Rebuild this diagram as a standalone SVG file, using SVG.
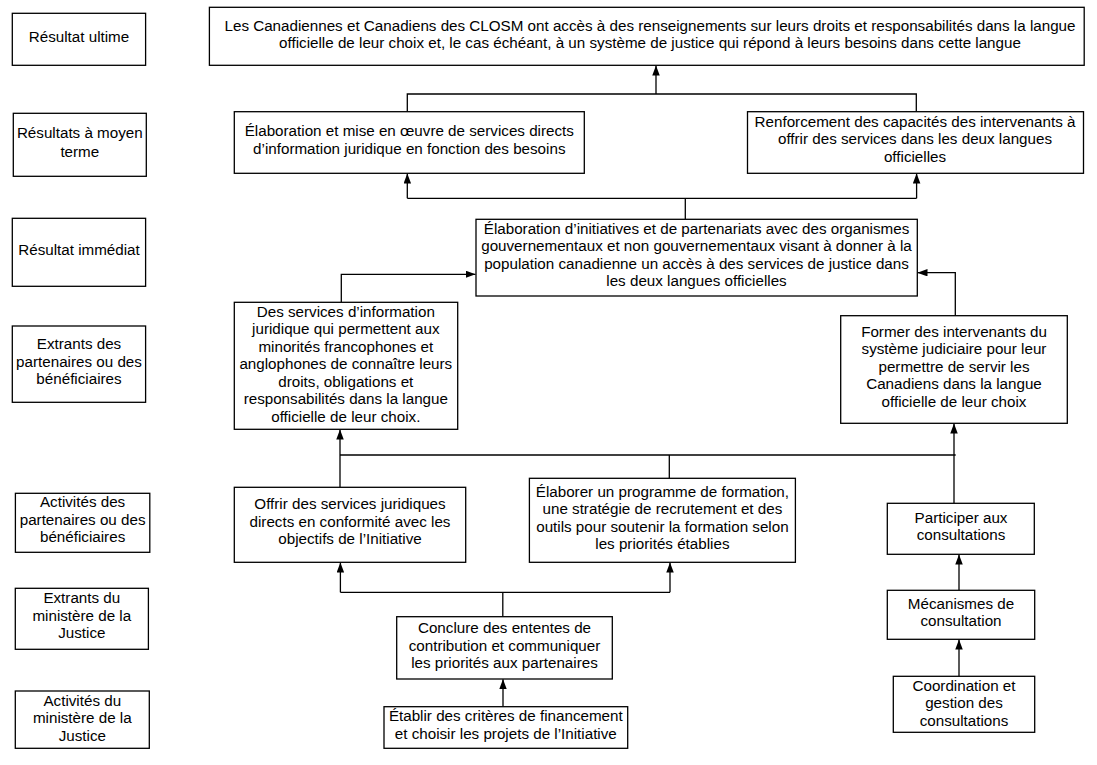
<svg xmlns="http://www.w3.org/2000/svg" width="1097" height="765" viewBox="0 0 1097 765">
<defs>
<style>
.b{fill:#fff;stroke:#000;stroke-width:1.3}
.t{font-family:"Liberation Sans",Arial,sans-serif;font-size:15.2px;fill:#000;text-anchor:middle}
.c{fill:none;stroke:#000;stroke-width:1.3}
</style>
<marker id="ah" markerUnits="userSpaceOnUse" markerWidth="10" markerHeight="8" refX="10" refY="3.75" orient="auto">
<path d="M0,0 L10,3.75 L0,7.5 z" fill="#000"/>
</marker>
</defs>
<rect width="1097" height="765" fill="#fff"/>

<g id="connectors">
<polyline class="c" points="407.3,111.7 407.3,94 916.3,94 916.3,111.7"/>
<line class="c" x1="656" y1="94" x2="656" y2="65.5" marker-end="url(#ah)"/>
<polyline class="c" points="685.3,219.3 685.3,198.3"/>
<line class="c" x1="407.3" y1="198.3" x2="916.6" y2="198.3"/>
<line class="c" x1="407.3" y1="198.3" x2="407.3" y2="173.5" marker-end="url(#ah)"/>
<line class="c" x1="916.6" y1="198.3" x2="916.6" y2="173.5" marker-end="url(#ah)"/>
<polyline class="c" points="341.3,302.3 341.3,274.3 475.5,274.3" marker-end="url(#ah)"/>
<polyline class="c" points="955.3,315.7 955.3,272.7 917.5,272.7" marker-end="url(#ah)"/>
<line class="c" x1="340" y1="487.3" x2="340" y2="429.5" marker-end="url(#ah)"/>
<line class="c" x1="340" y1="455" x2="955.7" y2="455"/>
<line class="c" x1="669.3" y1="455" x2="669.3" y2="478.3"/>
<line class="c" x1="954" y1="503.3" x2="954" y2="423.5" marker-end="url(#ah)"/>
<line class="c" x1="502.8" y1="616.7" x2="502.8" y2="592.3"/>
<line class="c" x1="340.4" y1="592.3" x2="670" y2="592.3"/>
<line class="c" x1="340.4" y1="592.3" x2="340.4" y2="562.5" marker-end="url(#ah)"/>
<line class="c" x1="670" y1="592.3" x2="670" y2="562.5" marker-end="url(#ah)"/>
<line class="c" x1="503" y1="706.7" x2="503" y2="679.2" marker-end="url(#ah)"/>
<line class="c" x1="959" y1="590.3" x2="959" y2="554.5" marker-end="url(#ah)"/>
<line class="c" x1="959" y1="676.3" x2="959" y2="639.5" marker-end="url(#ah)"/>
</g>

<g id="lbl-ultime">
<rect class="b" x="12.3" y="13.3" width="133.3" height="52"/>
<text class="t" x="79" y="42.3">Résultat ultime</text>
</g>
<g id="lbl-moyen">
<rect class="b" x="13.3" y="113.3" width="133" height="63"/>
<text class="t" x="79.8" y="138.3">Résultats à moyen</text>
<text class="t" x="79.8" y="156.5">terme</text>
</g>
<g id="lbl-immediat">
<rect class="b" x="12.3" y="218.3" width="133.3" height="68"/>
<text class="t" x="79" y="255">Résultat immédiat</text>
</g>
<g id="lbl-extrants-part">
<rect class="b" x="12.3" y="326" width="133.3" height="76.3"/>
<text class="t" x="79" y="349.3">Extrants des</text>
<text class="t" x="79" y="366.8">partenaires ou des</text>
<text class="t" x="79" y="384.3">bénéficiaires</text>
</g>
<g id="lbl-activites-part">
<rect class="b" x="15.4" y="493.3" width="134.4" height="59"/>
<text class="t" x="82.6" y="507.3">Activités des</text>
<text class="t" x="82.6" y="524.8">partenaires ou des</text>
<text class="t" x="82.6" y="542.3">bénéficiaires</text>
</g>
<g id="lbl-extrants-min">
<rect class="b" x="15.3" y="588.3" width="133.1" height="61"/>
<text class="t" x="81.8" y="603.3">Extrants du</text>
<text class="t" x="81.8" y="620.8">ministère de la</text>
<text class="t" x="81.8" y="638.3">Justice</text>
</g>
<g id="lbl-activites-min">
<rect class="b" x="15.3" y="691" width="134" height="57.3"/>
<text class="t" x="82.3" y="705.7">Activités du</text>
<text class="t" x="82.3" y="723.2">ministère de la</text>
<text class="t" x="82.3" y="740.7">Justice</text>
</g>

<g id="n-ultime">
<rect class="b" x="209.4" y="7.3" width="874.8" height="58"/>
<text class="t" x="650" y="30.5">Les Canadiennes et Canadiens des CLOSM ont accès à des renseignements sur leurs droits et responsabilités dans la langue</text>
<text class="t" x="650" y="48">officielle de leur choix et, le cas échéant, à un système de justice qui répond à leurs besoins dans cette langue</text>
</g>
<g id="n-moyen-1">
<rect class="b" x="234.3" y="111.7" width="350" height="61.6"/>
<text class="t" x="409.3" y="136">Élaboration et mise en œuvre de services directs</text>
<text class="t" x="409.3" y="153.5">d’information juridique en fonction des besoins</text>
</g>
<g id="n-moyen-2">
<rect class="b" x="747.5" y="111.7" width="336" height="61.6"/>
<text class="t" x="915" y="126.7">Renforcement des capacités des intervenants à</text>
<text class="t" x="915" y="144.2">offrir des services dans les deux langues</text>
<text class="t" x="915" y="161.7">officielles</text>
</g>
<g id="n-immediat">
<rect class="b" x="476" y="219.3" width="441.3" height="76.7"/>
<text class="t" x="696.5" y="233.5">Élaboration d’initiatives et de partenariats avec des organismes</text>
<text class="t" x="696.5" y="251">gouvernementaux et non gouvernementaux visant à donner à la</text>
<text class="t" x="696.5" y="268.5">population canadienne un accès à des services de justice dans</text>
<text class="t" x="696.5" y="286">les deux langues officielles</text>
</g>
<g id="n-services-info">
<rect class="b" x="234.3" y="302.3" width="223.4" height="127"/>
<text class="t" x="345.8" y="316.7">Des services d’information</text>
<text class="t" x="345.8" y="334.2">juridique qui permettent aux</text>
<text class="t" x="345.8" y="351.7">minorités francophones et</text>
<text class="t" x="345.8" y="369.2">anglophones de connaître leurs</text>
<text class="t" x="345.8" y="386.7">droits, obligations et</text>
<text class="t" x="345.8" y="404.2">responsabilités dans la langue</text>
<text class="t" x="345.8" y="421.7">officielle de leur choix.</text>
</g>
<g id="n-former">
<rect class="b" x="840.7" y="315.7" width="226.6" height="107.6"/>
<text class="t" x="954" y="336.7">Former des intervenants du</text>
<text class="t" x="954" y="354.2">système judiciaire pour leur</text>
<text class="t" x="954" y="371.7">permettre de servir les</text>
<text class="t" x="954" y="389.2">Canadiens dans la langue</text>
<text class="t" x="954" y="406.7">officielle de leur choix</text>
</g>
<g id="n-offrir">
<rect class="b" x="234.3" y="487.3" width="231.4" height="75"/>
<text class="t" x="350" y="509.3">Offrir des services juridiques</text>
<text class="t" x="350" y="526.8">directs en conformité avec les</text>
<text class="t" x="350" y="544.3">objectifs de l’Initiative</text>
</g>
<g id="n-elaborer">
<rect class="b" x="529.4" y="478.3" width="266" height="84"/>
<text class="t" x="662.4" y="496.7">Élaborer un programme de formation,</text>
<text class="t" x="662.4" y="514.2">une stratégie de recrutement et des</text>
<text class="t" x="662.4" y="531.7">outils pour soutenir la formation selon</text>
<text class="t" x="662.4" y="549.2">les priorités établies</text>
</g>
<g id="n-participer">
<rect class="b" x="887.3" y="503.3" width="147" height="51"/>
<text class="t" x="961" y="522.7">Participer aux</text>
<text class="t" x="961" y="540.2">consultations</text>
</g>
<g id="n-conclure">
<rect class="b" x="396.7" y="616.7" width="215.6" height="62.3"/>
<text class="t" x="504.5" y="633.3">Conclure des ententes de</text>
<text class="t" x="504.5" y="650.8">contribution et communiquer</text>
<text class="t" x="504.5" y="668.3">les priorités aux partenaires</text>
</g>
<g id="n-etablir">
<rect class="b" x="384" y="706.7" width="243.7" height="41.6"/>
<text class="t" x="505.8" y="721.2">Établir des critères de financement</text>
<text class="t" x="505.8" y="738.7">et choisir les projets de l’Initiative</text>
</g>
<g id="n-mecanismes">
<rect class="b" x="887.3" y="590.3" width="147.4" height="49"/>
<text class="t" x="961" y="609">Mécanismes de</text>
<text class="t" x="961" y="626">consultation</text>
</g>
<g id="n-coordination">
<rect class="b" x="893.3" y="676.3" width="141.4" height="56"/>
<text class="t" x="964" y="690.7">Coordination et</text>
<text class="t" x="964" y="708.2">gestion des</text>
<text class="t" x="964" y="725.7">consultations</text>
</g>
</svg>
